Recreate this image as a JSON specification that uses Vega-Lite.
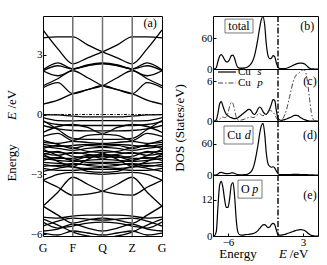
{
"$schema": "https://vega.github.io/schema/vega-lite/v6.json",
"padding": {"left": 5, "top": 13, "right": 0, "bottom": 0},
"bounds": "flush",
"spacing": 51,
"config": {
  "font": "Liberation Serif",
  "view": {"stroke": "black", "strokeWidth": 1},
  "axis": {"domain": false, "grid": false, "labelFont": "Liberation Serif", "labelFontSize": 11, "labelColor": "black", "tickColor": "black", "titleFont": "Liberation Serif", "labelOverlap": false},
  "text": {"font": "Liberation Serif", "fontSize": 12, "color": "black"}
},
"datasets": {
"one": [{}],
"kpts": [{"k": 1}, {"k": 2}, {"k": 3}],
"klabels": [{"k": 0, "n": "G"}, {"k": 1, "n": "F"}, {"k": 2, "n": "Q"}, {"k": 3, "n": "Z"}, {"k": 4, "n": "G"}],
"bands": [
{"b":"c1","k":0,"e":4.25},{"b":"c1","k":0.5,"e":3.3},{"b":"c1","k":1,"e":2.55},{"b":"c1","k":1.5,"e":2.85},{"b":"c1","k":2,"e":3.15},{"b":"c1","k":2.5,"e":3.5},{"b":"c1","k":3,"e":3.9},{"b":"c1","k":3.5,"e":3.9},{"b":"c1","k":4,"e":3.85},
{"b":"c2","k":0,"e":3.85},{"b":"c2","k":0.5,"e":3.9},{"b":"c2","k":1,"e":3.9},{"b":"c2","k":1.5,"e":3.5},{"b":"c2","k":2,"e":3.15},{"b":"c2","k":2.5,"e":2.85},{"b":"c2","k":3,"e":2.55},{"b":"c2","k":3.5,"e":3.3},{"b":"c2","k":4,"e":4.25},
{"b":"c3","k":0,"e":2.2},{"b":"c3","k":0.5,"e":1.95},{"b":"c3","k":1,"e":2.25},{"b":"c3","k":1.5,"e":2.5},{"b":"c3","k":2,"e":2.6},{"b":"c3","k":2.5,"e":2.5},{"b":"c3","k":3,"e":2.25},{"b":"c3","k":3.5,"e":1.95},{"b":"c3","k":4,"e":2.2},
{"b":"c4","k":0,"e":2.2},{"b":"c4","k":0.5,"e":2.45},{"b":"c4","k":1,"e":2.3},{"b":"c4","k":1.5,"e":2.45},{"b":"c4","k":2,"e":2.55},{"b":"c4","k":2.5,"e":2.45},{"b":"c4","k":3,"e":2.3},{"b":"c4","k":3.5,"e":2.45},{"b":"c4","k":4,"e":2.2},
{"b":"c5","k":0,"e":2.25},{"b":"c5","k":0.5,"e":2.6},{"b":"c5","k":1,"e":2.3},{"b":"c5","k":1.5,"e":2.47},{"b":"c5","k":2,"e":2.57},{"b":"c5","k":2.5,"e":2.47},{"b":"c5","k":3,"e":2.3},{"b":"c5","k":3.5,"e":2.6},{"b":"c5","k":4,"e":2.25},
{"b":"c6","k":0,"e":1.45},{"b":"c6","k":0.5,"e":1.8},{"b":"c6","k":1,"e":2.2},{"b":"c6","k":1.5,"e":1.85},{"b":"c6","k":2,"e":1.45},{"b":"c6","k":2.5,"e":1.25},{"b":"c6","k":3,"e":1.05},{"b":"c6","k":3.5,"e":1.6},{"b":"c6","k":4,"e":1.35},
{"b":"c7","k":0,"e":1.35},{"b":"c7","k":0.5,"e":1.6},{"b":"c7","k":1,"e":1.05},{"b":"c7","k":1.5,"e":1.25},{"b":"c7","k":2,"e":1.45},{"b":"c7","k":2.5,"e":1.85},{"b":"c7","k":3,"e":2.2},{"b":"c7","k":3.5,"e":1.8},{"b":"c7","k":4,"e":1.45},
{"b":"c8","k":0,"e":0.52},{"b":"c8","k":0.5,"e":0.72},{"b":"c8","k":1,"e":1.05},{"b":"c8","k":1.5,"e":1.25},{"b":"c8","k":2,"e":1.45},{"b":"c8","k":2.5,"e":1.25},{"b":"c8","k":3,"e":1.05},{"b":"c8","k":3.5,"e":0.72},{"b":"c8","k":4,"e":0.52},
{"b":"u1","k":0,"e":0.0},{"b":"u1","k":0.5,"e":-0.02},{"b":"u1","k":1,"e":-0.08},{"b":"u1","k":1.5,"e":-0.12},{"b":"u1","k":2,"e":-0.12},{"b":"u1","k":2.5,"e":-0.12},{"b":"u1","k":3,"e":-0.08},{"b":"u1","k":3.5,"e":-0.02},{"b":"u1","k":4,"e":0.0},
{"b":"u2","k":0,"e":-0.15},{"b":"u2","k":0.5,"e":-0.3},{"b":"u2","k":1,"e":-0.32},{"b":"u2","k":1.5,"e":-0.3},{"b":"u2","k":2,"e":-0.3},{"b":"u2","k":2.5,"e":-0.3},{"b":"u2","k":3,"e":-0.32},{"b":"u2","k":3.5,"e":-0.3},{"b":"u2","k":4,"e":-0.15},
{"b":"u3","k":0,"e":-0.35},{"b":"u3","k":0.5,"e":-0.5},{"b":"u3","k":1,"e":-0.55},{"b":"u3","k":1.5,"e":-0.55},{"b":"u3","k":2,"e":-0.55},{"b":"u3","k":2.5,"e":-0.55},{"b":"u3","k":3,"e":-0.55},{"b":"u3","k":3.5,"e":-0.5},{"b":"u3","k":4,"e":-0.35},
{"b":"u4","k":0,"e":-0.55},{"b":"u4","k":0.5,"e":-0.72},{"b":"u4","k":1,"e":-0.8},{"b":"u4","k":1.5,"e":-0.82},{"b":"u4","k":2,"e":-0.82},{"b":"u4","k":2.5,"e":-0.82},{"b":"u4","k":3,"e":-0.8},{"b":"u4","k":3.5,"e":-0.72},{"b":"u4","k":4,"e":-0.55},
{"b":"u5","k":0,"e":-0.3},{"b":"u5","k":0.5,"e":-0.75},{"b":"u5","k":1,"e":-1.2},{"b":"u5","k":1.5,"e":-1.25},{"b":"u5","k":2,"e":-1.25},{"b":"u5","k":2.5,"e":-1.25},{"b":"u5","k":3,"e":-1.2},{"b":"u5","k":3.5,"e":-0.75},{"b":"u5","k":4,"e":-0.3},
{"b":"u6","k":0,"e":-0.9},{"b":"u6","k":0.5,"e":-0.6},{"b":"u6","k":1,"e":-0.5},{"b":"u6","k":1.5,"e":-0.65},{"b":"u6","k":2,"e":-0.95},{"b":"u6","k":2.5,"e":-0.65},{"b":"u6","k":3,"e":-0.5},{"b":"u6","k":3.5,"e":-0.6},{"b":"u6","k":4,"e":-0.9},
{"b":"u7","k":0,"e":-1.1},{"b":"u7","k":0.5,"e":-0.95},{"b":"u7","k":1,"e":-1.3},{"b":"u7","k":1.5,"e":-1.05},{"b":"u7","k":2,"e":-1.0},{"b":"u7","k":2.5,"e":-1.05},{"b":"u7","k":3,"e":-1.3},{"b":"u7","k":3.5,"e":-0.95},{"b":"u7","k":4,"e":-1.1},
{"b":"d1","k":0,"e":-1.4},{"b":"d1","k":0.5,"e":-1.45},{"b":"d1","k":1,"e":-1.35},{"b":"d1","k":1.5,"e":-1.4},{"b":"d1","k":2,"e":-1.45},{"b":"d1","k":2.5,"e":-1.4},{"b":"d1","k":3,"e":-1.35},{"b":"d1","k":3.5,"e":-1.45},{"b":"d1","k":4,"e":-1.4},
{"b":"d2","k":0,"e":-1.5},{"b":"d2","k":0.5,"e":-1.6},{"b":"d2","k":1,"e":-1.55},{"b":"d2","k":1.5,"e":-1.5},{"b":"d2","k":2,"e":-1.5},{"b":"d2","k":2.5,"e":-1.5},{"b":"d2","k":3,"e":-1.55},{"b":"d2","k":3.5,"e":-1.6},{"b":"d2","k":4,"e":-1.5},
{"b":"d3","k":0,"e":-1.6},{"b":"d3","k":0.5,"e":-1.7},{"b":"d3","k":1,"e":-1.8},{"b":"d3","k":1.5,"e":-1.7},{"b":"d3","k":2,"e":-1.65},{"b":"d3","k":2.5,"e":-1.7},{"b":"d3","k":3,"e":-1.8},{"b":"d3","k":3.5,"e":-1.7},{"b":"d3","k":4,"e":-1.6},
{"b":"d4","k":0,"e":-1.7},{"b":"d4","k":0.5,"e":-1.55},{"b":"d4","k":1,"e":-1.65},{"b":"d4","k":1.5,"e":-1.85},{"b":"d4","k":2,"e":-1.9},{"b":"d4","k":2.5,"e":-1.85},{"b":"d4","k":3,"e":-1.65},{"b":"d4","k":3.5,"e":-1.55},{"b":"d4","k":4,"e":-1.7},
{"b":"d5","k":0,"e":-1.85},{"b":"d5","k":0.5,"e":-1.9},{"b":"d5","k":1,"e":-1.95},{"b":"d5","k":1.5,"e":-1.9},{"b":"d5","k":2,"e":-1.8},{"b":"d5","k":2.5,"e":-1.9},{"b":"d5","k":3,"e":-1.95},{"b":"d5","k":3.5,"e":-1.9},{"b":"d5","k":4,"e":-1.85},
{"b":"d6","k":0,"e":-1.95},{"b":"d6","k":0.5,"e":-2.05},{"b":"d6","k":1,"e":-1.9},{"b":"d6","k":1.5,"e":-2.0},{"b":"d6","k":2,"e":-2.05},{"b":"d6","k":2.5,"e":-2.0},{"b":"d6","k":3,"e":-1.9},{"b":"d6","k":3.5,"e":-2.05},{"b":"d6","k":4,"e":-1.95},
{"b":"d7","k":0,"e":-2.0},{"b":"d7","k":0.5,"e":-1.85},{"b":"d7","k":1,"e":-2.1},{"b":"d7","k":1.5,"e":-2.15},{"b":"d7","k":2,"e":-2.1},{"b":"d7","k":2.5,"e":-2.15},{"b":"d7","k":3,"e":-2.1},{"b":"d7","k":3.5,"e":-1.85},{"b":"d7","k":4,"e":-2.0},
{"b":"d8","k":0,"e":-2.1},{"b":"d8","k":0.5,"e":-2.2},{"b":"d8","k":1,"e":-2.2},{"b":"d8","k":1.5,"e":-2.05},{"b":"d8","k":2,"e":-2.2},{"b":"d8","k":2.5,"e":-2.05},{"b":"d8","k":3,"e":-2.2},{"b":"d8","k":3.5,"e":-2.2},{"b":"d8","k":4,"e":-2.1},
{"b":"d9","k":0,"e":-2.2},{"b":"d9","k":0.5,"e":-2.3},{"b":"d9","k":1,"e":-2.35},{"b":"d9","k":1.5,"e":-2.3},{"b":"d9","k":2,"e":-2.25},{"b":"d9","k":2.5,"e":-2.3},{"b":"d9","k":3,"e":-2.35},{"b":"d9","k":3.5,"e":-2.3},{"b":"d9","k":4,"e":-2.2},
{"b":"d10","k":0,"e":-2.3},{"b":"d10","k":0.5,"e":-2.15},{"b":"d10","k":1,"e":-2.3},{"b":"d10","k":1.5,"e":-2.4},{"b":"d10","k":2,"e":-2.4},{"b":"d10","k":2.5,"e":-2.4},{"b":"d10","k":3,"e":-2.3},{"b":"d10","k":3.5,"e":-2.15},{"b":"d10","k":4,"e":-2.3},
{"b":"d11","k":0,"e":-2.4},{"b":"d11","k":0.5,"e":-2.45},{"b":"d11","k":1,"e":-2.5},{"b":"d11","k":1.5,"e":-2.5},{"b":"d11","k":2,"e":-2.45},{"b":"d11","k":2.5,"e":-2.5},{"b":"d11","k":3,"e":-2.5},{"b":"d11","k":3.5,"e":-2.45},{"b":"d11","k":4,"e":-2.4},
{"b":"d12","k":0,"e":-2.5},{"b":"d12","k":0.5,"e":-2.6},{"b":"d12","k":1,"e":-2.45},{"b":"d12","k":1.5,"e":-2.55},{"b":"d12","k":2,"e":-2.6},{"b":"d12","k":2.5,"e":-2.55},{"b":"d12","k":3,"e":-2.45},{"b":"d12","k":3.5,"e":-2.6},{"b":"d12","k":4,"e":-2.5},
{"b":"d13","k":0,"e":-2.6},{"b":"d13","k":0.5,"e":-2.55},{"b":"d13","k":1,"e":-2.65},{"b":"d13","k":1.5,"e":-2.7},{"b":"d13","k":2,"e":-2.65},{"b":"d13","k":2.5,"e":-2.7},{"b":"d13","k":3,"e":-2.65},{"b":"d13","k":3.5,"e":-2.55},{"b":"d13","k":4,"e":-2.6},
{"b":"d14","k":0,"e":-2.7},{"b":"d14","k":0.5,"e":-2.8},{"b":"d14","k":1,"e":-2.8},{"b":"d14","k":1.5,"e":-2.75},{"b":"d14","k":2,"e":-2.75},{"b":"d14","k":2.5,"e":-2.75},{"b":"d14","k":3,"e":-2.8},{"b":"d14","k":3.5,"e":-2.8},{"b":"d14","k":4,"e":-2.7},
{"b":"d15","k":0,"e":-2.85},{"b":"d15","k":0.5,"e":-2.7},{"b":"d15","k":1,"e":-2.6},{"b":"d15","k":1.5,"e":-2.85},{"b":"d15","k":2,"e":-2.9},{"b":"d15","k":2.5,"e":-2.85},{"b":"d15","k":3,"e":-2.6},{"b":"d15","k":3.5,"e":-2.7},{"b":"d15","k":4,"e":-2.85},
{"b":"d16","k":0,"e":-1.3},{"b":"d16","k":0.5,"e":-1.5},{"b":"d16","k":1,"e":-1.7},{"b":"d16","k":1.5,"e":-1.55},{"b":"d16","k":2,"e":-1.6},{"b":"d16","k":2.5,"e":-1.55},{"b":"d16","k":3,"e":-1.7},{"b":"d16","k":3.5,"e":-1.5},{"b":"d16","k":4,"e":-1.3},
{"b":"d17","k":0,"e":-2.0},{"b":"d17","k":0.5,"e":-2.35},{"b":"d17","k":1,"e":-2.6},{"b":"d17","k":1.5,"e":-2.25},{"b":"d17","k":2,"e":-1.95},{"b":"d17","k":2.5,"e":-2.25},{"b":"d17","k":3,"e":-2.6},{"b":"d17","k":3.5,"e":-2.35},{"b":"d17","k":4,"e":-2.0},
{"b":"d18","k":0,"e":-1.75},{"b":"d18","k":0.5,"e":-2.05},{"b":"d18","k":1,"e":-2.3},{"b":"d18","k":1.5,"e":-2.1},{"b":"d18","k":2,"e":-2.0},{"b":"d18","k":2.5,"e":-2.1},{"b":"d18","k":3,"e":-2.3},{"b":"d18","k":3.5,"e":-2.05},{"b":"d18","k":4,"e":-1.75},
{"b":"l1","k":0,"e":-3.3},{"b":"l1","k":0.5,"e":-3.0},{"b":"l1","k":1,"e":-2.9},{"b":"l1","k":1.5,"e":-2.95},{"b":"l1","k":2,"e":-3.0},{"b":"l1","k":2.5,"e":-2.95},{"b":"l1","k":3,"e":-2.9},{"b":"l1","k":3.5,"e":-3.0},{"b":"l1","k":4,"e":-3.3},
{"b":"l2","k":0,"e":-3.3},{"b":"l2","k":0.5,"e":-3.65},{"b":"l2","k":1,"e":-4.05},{"b":"l2","k":1.5,"e":-4.0},{"b":"l2","k":2,"e":-3.85},{"b":"l2","k":2.5,"e":-3.5},{"b":"l2","k":3,"e":-3.15},{"b":"l2","k":3.5,"e":-3.9},{"b":"l2","k":4,"e":-4.6},
{"b":"l3","k":0,"e":-4.6},{"b":"l3","k":0.5,"e":-3.9},{"b":"l3","k":1,"e":-3.15},{"b":"l3","k":1.5,"e":-3.5},{"b":"l3","k":2,"e":-3.85},{"b":"l3","k":2.5,"e":-4.0},{"b":"l3","k":3,"e":-4.05},{"b":"l3","k":3.5,"e":-3.65},{"b":"l3","k":4,"e":-3.3},
{"b":"l4","k":0,"e":-4.6},{"b":"l4","k":0.5,"e":-5.05},{"b":"l4","k":1,"e":-5.45},{"b":"l4","k":1.5,"e":-5.3},{"b":"l4","k":2,"e":-5.2},{"b":"l4","k":2.5,"e":-5.3},{"b":"l4","k":3,"e":-5.45},{"b":"l4","k":3.5,"e":-5.05},{"b":"l4","k":4,"e":-4.6},
{"b":"l5","k":0,"e":-5.15},{"b":"l5","k":0.5,"e":-5.2},{"b":"l5","k":1,"e":-5.1},{"b":"l5","k":1.5,"e":-5.05},{"b":"l5","k":2,"e":-5.05},{"b":"l5","k":2.5,"e":-5.05},{"b":"l5","k":3,"e":-5.1},{"b":"l5","k":3.5,"e":-5.2},{"b":"l5","k":4,"e":-5.15},
{"b":"l6","k":0,"e":-5.6},{"b":"l6","k":0.5,"e":-5.35},{"b":"l6","k":1,"e":-5.2},{"b":"l6","k":1.5,"e":-5.25},{"b":"l6","k":2,"e":-5.3},{"b":"l6","k":2.5,"e":-5.25},{"b":"l6","k":3,"e":-5.2},{"b":"l6","k":3.5,"e":-5.35},{"b":"l6","k":4,"e":-5.6},
{"b":"l7","k":0,"e":-5.4},{"b":"l7","k":0.5,"e":-5.7},{"b":"l7","k":1,"e":-5.6},{"b":"l7","k":1.5,"e":-5.45},{"b":"l7","k":2,"e":-5.4},{"b":"l7","k":2.5,"e":-5.45},{"b":"l7","k":3,"e":-5.6},{"b":"l7","k":3.5,"e":-5.7},{"b":"l7","k":4,"e":-5.4},
{"b":"l8","k":0,"e":-5.85},{"b":"l8","k":0.5,"e":-5.75},{"b":"l8","k":1,"e":-5.5},{"b":"l8","k":1.5,"e":-5.7},{"b":"l8","k":2,"e":-5.85},{"b":"l8","k":2.5,"e":-5.7},{"b":"l8","k":3,"e":-5.5},{"b":"l8","k":3.5,"e":-5.75},{"b":"l8","k":4,"e":-5.85},
{"b":"l9","k":0,"e":-5.95},{"b":"l9","k":0.5,"e":-6.05},{"b":"l9","k":1,"e":-5.85},{"b":"l9","k":1.5,"e":-5.95},{"b":"l9","k":2,"e":-6.05},{"b":"l9","k":2.5,"e":-5.95},{"b":"l9","k":3,"e":-5.85},{"b":"l9","k":3.5,"e":-6.05},{"b":"l9","k":4,"e":-5.95},
{"b":"l10","k":0,"e":-5.25},{"b":"l10","k":0.5,"e":-5.55},{"b":"l10","k":1,"e":-5.9},{"b":"l10","k":1.5,"e":-6.1},{"b":"l10","k":2,"e":-6.2},{"b":"l10","k":2.5,"e":-6.1},{"b":"l10","k":3,"e":-5.9},{"b":"l10","k":3.5,"e":-5.55},{"b":"l10","k":4,"e":-5.25}
],
"dos": [
{"e":-7.8,"t":0,"s":0,"p":0,"d":0,"o":0},
{"e":-7.6,"t":0.5,"s":0,"p":0,"d":0,"o":0.2},
{"e":-7.4,"t":3,"s":0.2,"p":0,"d":0.5,"o":1.5},
{"e":-7.2,"t":15,"s":1.2,"p":0.1,"d":2,"o":10},
{"e":-7.0,"t":25,"s":2.6,"p":0.3,"d":4.5,"o":17},
{"e":-6.8,"t":28,"s":2.9,"p":0.5,"d":5,"o":18.2},
{"e":-6.6,"t":24,"s":2.2,"p":0.6,"d":4,"o":16},
{"e":-6.4,"t":18,"s":1.5,"p":0.5,"d":3,"o":12},
{"e":-6.2,"t":14,"s":1.0,"p":0.6,"d":2.5,"o":9.5},
{"e":-6.0,"t":14,"s":0.8,"p":1.2,"d":2.5,"o":9.5},
{"e":-5.8,"t":19,"s":0.6,"p":2.2,"d":3,"o":12.5},
{"e":-5.6,"t":26,"s":0.5,"p":2.8,"d":4,"o":17},
{"e":-5.4,"t":27,"s":0.4,"p":2.6,"d":4,"o":17.8},
{"e":-5.2,"t":20,"s":0.35,"p":1.6,"d":3,"o":13},
{"e":-5.0,"t":9,"s":0.4,"p":0.5,"d":1.5,"o":5},
{"e":-4.8,"t":3,"s":0.5,"p":0.15,"d":0.8,"o":1.2},
{"e":-4.6,"t":1.8,"s":0.7,"p":0.1,"d":0.5,"o":0.4},
{"e":-4.4,"t":1.6,"s":0.9,"p":0.15,"d":0.5,"o":0.3},
{"e":-4.2,"t":1.8,"s":1.1,"p":0.2,"d":0.5,"o":0.3},
{"e":-4.0,"t":2.2,"s":1.3,"p":0.3,"d":0.8,"o":0.4},
{"e":-3.8,"t":3,"s":1.5,"p":0.4,"d":1,"o":0.5},
{"e":-3.6,"t":4.5,"s":1.7,"p":0.5,"d":2,"o":0.5},
{"e":-3.4,"t":7,"s":1.75,"p":0.6,"d":4,"o":0.6},
{"e":-3.2,"t":11,"s":1.5,"p":0.6,"d":7,"o":0.7},
{"e":-3.0,"t":17,"s":1.1,"p":0.5,"d":13,"o":0.8},
{"e":-2.8,"t":27,"s":1.0,"p":0.6,"d":24,"o":1.0},
{"e":-2.6,"t":42,"s":1.3,"p":0.8,"d":40,"o":1.3},
{"e":-2.4,"t":60,"s":1.8,"p":1.0,"d":58,"o":1.8},
{"e":-2.2,"t":80,"s":2.1,"p":1.1,"d":80,"o":2.5},
{"e":-2.0,"t":96,"s":1.9,"p":0.9,"d":95,"o":3.2},
{"e":-1.8,"t":102,"s":1.4,"p":0.8,"d":100,"o":3.7},
{"e":-1.6,"t":86,"s":1.1,"p":0.9,"d":80,"o":3.8},
{"e":-1.4,"t":48,"s":1.0,"p":1.1,"d":42,"o":3.3},
{"e":-1.2,"t":26,"s":1.3,"p":1.4,"d":22,"o":2.8},
{"e":-1.0,"t":20,"s":1.8,"p":1.6,"d":17,"o":3.0},
{"e":-0.8,"t":21,"s":2.5,"p":1.5,"d":15,"o":3.8},
{"e":-0.6,"t":26,"s":3.2,"p":1.3,"d":16,"o":4.2},
{"e":-0.4,"t":24,"s":3.1,"p":1.0,"d":14,"o":3.8},
{"e":-0.2,"t":12,"s":1.6,"p":0.5,"d":8,"o":2.0},
{"e":0.0,"t":3,"s":0.4,"p":0.15,"d":2.5,"o":0.5},
{"e":0.2,"t":1,"s":0.15,"p":0.05,"d":0.8,"o":0.3},
{"e":0.4,"t":0.8,"s":0.1,"p":0.05,"d":0.6,"o":0.3},
{"e":0.6,"t":0.8,"s":0.15,"p":0.4,"d":0.6,"o":0.4},
{"e":0.8,"t":1,"s":0.2,"p":0.9,"d":0.7,"o":0.5},
{"e":1.0,"t":1.5,"s":0.3,"p":1.6,"d":0.8,"o":0.7},
{"e":1.2,"t":2.5,"s":0.4,"p":2.6,"d":0.9,"o":0.9},
{"e":1.4,"t":4,"s":0.5,"p":3.7,"d":1.0,"o":1.1},
{"e":1.6,"t":5.5,"s":0.6,"p":4.8,"d":1.0,"o":1.3},
{"e":1.8,"t":7,"s":0.75,"p":5.8,"d":1.1,"o":1.5},
{"e":2.0,"t":8.5,"s":0.85,"p":6.5,"d":1.1,"o":1.7},
{"e":2.2,"t":10,"s":0.85,"p":6.9,"d":1.1,"o":1.9},
{"e":2.4,"t":11,"s":0.8,"p":7.1,"d":1.1,"o":2.0},
{"e":2.6,"t":11.5,"s":0.6,"p":7.3,"d":1.0,"o":2.1},
{"e":2.8,"t":11.5,"s":0.45,"p":7.5,"d":1.0,"o":2.1},
{"e":3.0,"t":11,"s":0.3,"p":7.7,"d":0.9,"o":2.0},
{"e":3.2,"t":9.5,"s":0.2,"p":7.6,"d":0.8,"o":1.8},
{"e":3.4,"t":7,"s":0.1,"p":6.9,"d":0.7,"o":1.4},
{"e":3.6,"t":4,"s":0.05,"p":5.3,"d":0.5,"o":0.9},
{"e":3.8,"t":1.5,"s":0,"p":3.2,"d":0.3,"o":0.5},
{"e":4.0,"t":0.5,"s":0,"p":1.3,"d":0.2,"o":0.2},
{"e":4.2,"t":0.2,"s":0,"p":0.3,"d":0.1,"o":0.1},
{"e":4.4,"t":0,"s":0,"p":0.05,"d":0,"o":0},
{"e":4.6,"t":0,"s":0,"p":0,"d":0,"o":0},
{"e":4.8,"t":0,"s":0,"p":0,"d":0,"o":0}
]
},
"hconcat": [
{
  "width": 119, "height": 220,
  "layer": [
    {"data": {"name": "bands"},
     "mark": {"type": "line", "color": "black", "strokeWidth": 1.3, "interpolate": "monotone", "clip": true},
     "encoding": {
       "x": {"field": "k", "type": "quantitative", "scale": {"domain": [0, 4], "nice": false, "zero": false}, "axis": null},
       "y": {"field": "e", "type": "quantitative", "scale": {"domain": [-6.1, 4.95], "nice": false, "zero": false},
             "axis": {"values": [-6, -4.5, -3, -1.5, 0, 1.5, 3, 4.5], "labelExpr": "datum.value % 3 === 0 ? format(datum.value, 'd') : ''", "tickSize": -3, "labelPadding": 4, "title": null}},
       "detail": {"field": "b"}
     }},
    {"data": {"name": "kpts"},
     "mark": {"type": "rule", "color": "#707070", "strokeWidth": 1.5},
     "encoding": {"x": {"field": "k", "type": "quantitative"}}},
    {"data": {"name": "klabels"},
     "mark": {"type": "text", "fontSize": 12, "baseline": "middle"},
     "encoding": {"x": {"field": "k", "type": "quantitative"}, "y": {"datum": -6.7}, "text": {"field": "n"}}},
    {"data": {"name": "one"}, "mark": {"type": "rule", "color": "black", "strokeWidth": 1, "strokeDash": [3, 1.5, 1, 1.5]},
     "encoding": {"y": {"datum": 0}}},
    {"data": {"name": "one"}, "mark": {"type": "text", "text": "(a)", "fontSize": 12},
     "encoding": {"x": {"datum": 3.6}, "y": {"datum": 4.6}}},
    {"data": {"name": "one"}, "mark": {"type": "text", "text": "Energy", "fontSize": 13, "angle": 270, "align": "center", "baseline": "middle"},
     "encoding": {"x": {"datum": -1.04}, "y": {"datum": -2.43}}},
    {"data": {"name": "one"}, "mark": {"type": "text", "text": "E", "fontSize": 13, "fontStyle": "italic", "angle": 270, "align": "left", "baseline": "middle"},
     "encoding": {"x": {"datum": -1.04}, "y": {"datum": -0.27}}},
    {"data": {"name": "one"}, "mark": {"type": "text", "text": "/eV", "fontSize": 13, "angle": 270, "align": "left", "baseline": "middle"},
     "encoding": {"x": {"datum": -1.04}, "y": {"datum": 0.3}}}
  ]
},
{
  "vconcat": [
    {
      "width": 105, "height": 53,
      "layer": [
        {"data": {"name": "dos"}, "mark": {"type": "line", "color": "black", "strokeWidth": 1.2, "interpolate": "monotone"},
         "encoding": {
           "x": {"field": "e", "type": "quantitative", "scale": {"domain": [-7.8, 4.8], "nice": false, "zero": false}, "axis": null},
           "y": {"field": "t", "type": "quantitative", "scale": {"domain": [0, 103], "nice": false}, "axis": {"values": [0, 60], "tickSize": -3, "labelPadding": 4, "title": null}}
         }},
        {"data": {"name": "one"}, "mark": {"type": "rule", "color": "black", "strokeWidth": 1.4, "strokeDash": [6, 2, 1.5, 2]}, "encoding": {"x": {"datum": 0}}},
        {"data": {"name": "one"}, "mark": {"type": "rect", "fill": "white", "stroke": "#555", "strokeWidth": 0.8},
         "encoding": {"x": {"datum": -6.36}, "x2": {"datum": -3.0}, "y": {"datum": 97}, "y2": {"datum": 70}}},
        {"data": {"name": "one"}, "mark": {"type": "text", "text": "total", "fontSize": 12},
         "encoding": {"x": {"datum": -4.68}, "y": {"datum": 83}}},
        {"data": {"name": "one"}, "mark": {"type": "text", "text": "(b)", "fontSize": 12},
         "encoding": {"x": {"datum": 3.5}, "y": {"datum": 83}}}
      ]
    },
    {
      "width": 105, "height": 52,
      "layer": [
        {"data": {"name": "dos"}, "mark": {"type": "line", "color": "black", "strokeWidth": 1.2, "interpolate": "monotone"},
         "encoding": {
           "x": {"field": "e", "type": "quantitative", "scale": {"domain": [-7.8, 4.8], "nice": false, "zero": false}, "axis": null},
           "y": {"field": "s", "type": "quantitative", "scale": {"domain": [0, 7.8], "nice": false}, "axis": {"values": [0, 6], "tickSize": -3, "labelPadding": 4, "title": null}}
         }},
        {"data": {"name": "dos"}, "mark": {"type": "line", "color": "#444", "strokeWidth": 1, "strokeDash": [5, 2, 1.5, 2], "interpolate": "monotone"},
         "encoding": {"x": {"field": "e", "type": "quantitative"}, "y": {"field": "p", "type": "quantitative"}}},
        {"data": {"name": "one"}, "mark": {"type": "rule", "color": "black", "strokeWidth": 1.4, "strokeDash": [6, 2, 1.5, 2]}, "encoding": {"x": {"datum": 0}}},
        {"data": {"name": "one"}, "mark": {"type": "rule", "color": "black", "strokeWidth": 1.2}, "encoding": {"x": {"datum": -7.2}, "x2": {"datum": -5.04}, "y": {"datum": 7.35}}},
        {"data": {"name": "one"}, "mark": {"type": "rule", "color": "#444", "strokeWidth": 1, "strokeDash": [5, 2, 1.5, 2]}, "encoding": {"x": {"datum": -7.2}, "x2": {"datum": -5.04}, "y": {"datum": 5.7}}},
        {"data": {"name": "one"}, "mark": {"type": "text", "text": "Cu", "fontSize": 11, "align": "left"}, "encoding": {"x": {"datum": -4.8}, "y": {"datum": 7.35}}},
        {"data": {"name": "one"}, "mark": {"type": "text", "text": "s", "fontSize": 11, "align": "left", "fontStyle": "italic"}, "encoding": {"x": {"datum": -2.5}, "y": {"datum": 7.35}}},
        {"data": {"name": "one"}, "mark": {"type": "text", "text": "Cu", "fontSize": 11, "align": "left"}, "encoding": {"x": {"datum": -4.8}, "y": {"datum": 5.7}}},
        {"data": {"name": "one"}, "mark": {"type": "text", "text": "p", "fontSize": 11, "align": "left", "fontStyle": "italic"}, "encoding": {"x": {"datum": -2.5}, "y": {"datum": 5.7}}},
        {"data": {"name": "one"}, "mark": {"type": "text", "text": "(c)", "fontSize": 12}, "encoding": {"x": {"datum": 3.84}, "y": {"datum": 6.0}}}
      ]
    },
    {
      "width": 105, "height": 54,
      "layer": [
        {"data": {"name": "dos"}, "mark": {"type": "line", "color": "black", "strokeWidth": 1.2, "interpolate": "monotone"},
         "encoding": {
           "x": {"field": "e", "type": "quantitative", "scale": {"domain": [-7.8, 4.8], "nice": false, "zero": false}, "axis": null},
           "y": {"field": "d", "type": "quantitative", "scale": {"domain": [0, 104.5], "nice": false}, "axis": {"values": [0, 60], "tickSize": -3, "labelPadding": 4, "title": null}}
         }},
        {"data": {"name": "one"}, "mark": {"type": "rule", "color": "black", "strokeWidth": 1.4, "strokeDash": [6, 2, 1.5, 2]}, "encoding": {"x": {"datum": 0}}},
        {"data": {"name": "one"}, "mark": {"type": "rect", "fill": "white", "stroke": "#555", "strokeWidth": 0.8},
         "encoding": {"x": {"datum": -6.48}, "x2": {"datum": -3.0}, "y": {"datum": 94.8}, "y2": {"datum": 60}}},
        {"data": {"name": "one"}, "mark": {"type": "text", "text": "Cu", "fontSize": 12, "align": "left"}, "encoding": {"x": {"datum": -6.1}, "y": {"datum": 77.4}}},
        {"data": {"name": "one"}, "mark": {"type": "text", "text": "d", "fontSize": 12, "align": "left", "fontStyle": "italic"}, "encoding": {"x": {"datum": -4.0}, "y": {"datum": 77.4}}},
        {"data": {"name": "one"}, "mark": {"type": "text", "text": "(d)", "fontSize": 12}, "encoding": {"x": {"datum": 3.84}, "y": {"datum": 77}}},
        {"data": {"name": "one"}, "mark": {"type": "text", "text": "DOS (States/eV)", "fontSize": 13, "angle": 270, "align": "center", "baseline": "middle"}, "encoding": {"x": {"datum": -11.76}, "y": {"datum": 91}}}
      ]
    },
    {
      "width": 105, "height": 61,
      "layer": [
        {"data": {"name": "dos"}, "mark": {"type": "line", "color": "black", "strokeWidth": 1.2, "interpolate": "monotone"},
         "encoding": {
           "x": {"field": "e", "type": "quantitative", "scale": {"domain": [-7.8, 4.8], "nice": false, "zero": false}, "axis": {"values": [-6, -3, 0, 3], "tickSize": -3, "labelPadding": 3, "title": null}},
           "y": {"field": "o", "type": "quantitative", "scale": {"domain": [0, 20.3], "nice": false}, "axis": {"values": [0, 12], "tickSize": -3, "labelPadding": 4, "title": null}}
         }},
        {"data": {"name": "one"}, "mark": {"type": "rule", "color": "black", "strokeWidth": 1.4, "strokeDash": [6, 2, 1.5, 2]}, "encoding": {"x": {"datum": 0}}},
        {"data": {"name": "one"}, "mark": {"type": "rect", "fill": "white", "stroke": "#555", "strokeWidth": 0.8},
         "encoding": {"x": {"datum": -4.8}, "x2": {"datum": -1.92}, "y": {"datum": 18.6}, "y2": {"datum": 12.6}}},
        {"data": {"name": "one"}, "mark": {"type": "text", "text": "O", "fontSize": 12, "align": "left"}, "encoding": {"x": {"datum": -4.45}, "y": {"datum": 15.6}}},
        {"data": {"name": "one"}, "mark": {"type": "text", "text": "p", "fontSize": 12, "align": "left", "fontStyle": "italic"}, "encoding": {"x": {"datum": -3.1}, "y": {"datum": 15.6}}},
        {"data": {"name": "one"}, "mark": {"type": "text", "text": "(e)", "fontSize": 12}, "encoding": {"x": {"datum": 3.84}, "y": {"datum": 13.6}}},
        {"data": {"name": "one"}, "mark": {"type": "text", "text": "Energy", "fontSize": 13}, "encoding": {"x": {"datum": -4.8}, "y": {"datum": -6}}},
        {"data": {"name": "one"}, "mark": {"type": "text", "text": "E", "fontSize": 13, "fontStyle": "italic", "align": "left"}, "encoding": {"x": {"datum": 0.12}, "y": {"datum": -6}}},
        {"data": {"name": "one"}, "mark": {"type": "text", "text": "/eV", "fontSize": 13, "align": "left"}, "encoding": {"x": {"datum": 1.4}, "y": {"datum": -6}}}
      ]
    }
  ],
  "spacing": 0,
  "bounds": "flush"
}
]
}
